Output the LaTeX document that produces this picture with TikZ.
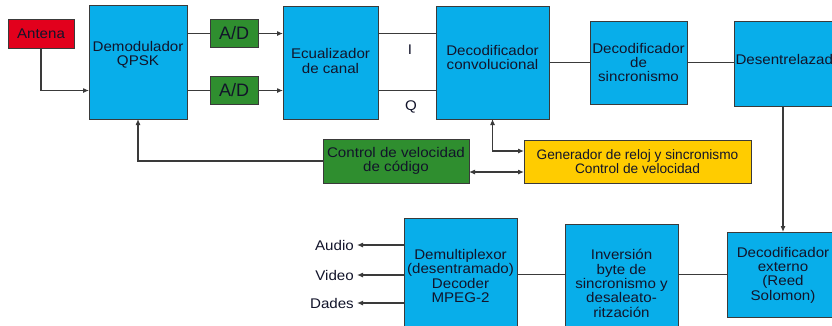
\documentclass[tikz,border=0pt]{standalone}
\usepackage{fontspec}
\setmainfont[FakeStretch=1.08]{Liberation Sans}
\newfontfamily\plainarial{Liberation Sans}
\usetikzlibrary{arrows.meta}
\definecolor{bxblue}{HTML}{08AEEA}
\definecolor{bxred}{HTML}{E2001C}
\definecolor{bxgreen}{HTML}{2F8E2F}
\definecolor{bxyellow}{HTML}{FFCC00}
\definecolor{lineg}{HTML}{3A3A3A}
\definecolor{txt}{HTML}{12142A}
\begin{document}
\begin{tikzpicture}[x=1pt,y=-1pt,
  box/.style={draw=lineg, line width=0.9pt, inner sep=0pt, outer sep=0pt, align=center,
              font=\fontsize{14}{14.4}\selectfont, text=txt},
  bluebox/.style={box, fill=bxblue},
  txtn/.style={inner sep=0pt, align=center, font=\fontsize{14}{14.4}\selectfont, text=txt},
  conn/.style={draw=lineg, line width=1.1pt},
  arr/.style={conn, -{Latex[length=6pt,width=5pt]}},
  darr/.style={conn, {Latex[length=6pt,width=5pt]}-{Latex[length=6pt,width=5pt]}},
  outlbl/.style={inner sep=3pt, anchor=east, font=\fontsize{14}{14.4}\selectfont, text=txt}]
\clip (0,0) rectangle (832,325);
\fill[white] (0,0) rectangle (832,325);

% top row
\node[box, fill=bxred, minimum width=66pt, minimum height=29pt] (ant) at (41,33.5) {Antena};
\node[bluebox, minimum width=98pt, minimum height=114pt] (demod) at (138,62) {};
\node[txtn] (demodt) at (138,55) {Demodulador\\QPSK};
\node[box, fill=bxgreen, minimum width=48pt, minimum height=28pt,
      font=\plainarial\fontsize{18}{18}\selectfont] (ad1) at (234,33.5) {A/D};
\node[box, fill=bxgreen, minimum width=48pt, minimum height=28pt,
      font=\plainarial\fontsize{18}{18}\selectfont] (ad2) at (234,90.5) {A/D};
\node[bluebox, minimum width=95pt, minimum height=113pt] (ecu) at (330.5,62.5) {};
\node[txtn] (ecut) at (330.5,61) {Ecualizador\\de canal};
\node[bluebox, minimum width=113pt, minimum height=113pt] (conv) at (492.5,62.5) {};
\node[txtn] (convt) at (492.5,57.5) {Decodificador\\convolucional};
\node[bluebox, minimum width=97pt, minimum height=83pt] (sinc) at (638.5,62.5) {Decodificador\\de\\sincronismo};
\node[bluebox, minimum width=114pt, minimum height=85pt] (des) at (791,63.5) {};
\node[txtn] (dest) at (791,59) {Desentrelazador};

% labels I / Q
\node[txtn] (ilbl) at (410,50) {I};
\node[txtn] (qlbl) at (411,107) {Q};

% middle row
\node[box, fill=bxgreen, minimum width=146pt, minimum height=44pt] (ctrl) at (396,161) {Control de velocidad\\de código};
\node[box, fill=bxyellow, minimum width=227pt, minimum height=43pt,
      font=\plainarial\fontsize{13.7}{14.2}\selectfont] (gen) at (637.5,161.5) {Generador de reloj y sincronismo\\Control de velocidad};

% bottom row
\node[bluebox, minimum width=113pt, minimum height=117pt] (demux) at (460.5,276.5) {};
\node[txtn] (demuxt) at (460.5,276) {Demultiplexor\\(desentramado)\\Decoder\\MPEG-2};
\node[bluebox, minimum width=113pt, minimum height=111pt] (inv) at (621.5,279.5) {};
\node[txtn] (invt) at (621.5,283.5) {Inversión\\byte de\\sincronismo y\\desaleato-\\ritzación};
\node[bluebox, minimum width=112pt, minimum height=85pt] (ext) at (783,274.5) {};
\node[txtn] (extt) at (783,275) {Decodificador\\externo\\(Reed\\Solomon)};

\node[outlbl] (audio) at (357,245) {Audio};
\node[outlbl] (video) at (357,275) {Video};
\node[outlbl] (dades) at (357,303) {Dades};

% connectors
\draw[arr] (ant.south) |- (ad2 -| demod.west);
\draw[conn] (demod.east |- ad1) -- (ad1.west);
\draw[conn] (demod.east |- ad2) -- (ad2.west);
\draw[arr] (ad1.east) -- (ad1 -| ecu.west);
\draw[arr] (ad2.east) -- (ad2 -| ecu.west);
\draw[conn] (ecu.east |- ad1) -- (ad1 -| conv.west);
\draw[conn] (ecu.east |- ad2) -- (ad2 -| conv.west);
\draw[conn] (conv.east |- sinc) -- (sinc.west);
\draw[conn] (sinc.east) -- (sinc -| des.west);
\draw[arr] (ext.north |- des.south) -- (ext.north);
\draw[conn] (ext.west) -- (ext.west -| inv.east);
\draw[conn] (ext.west -| inv.west) -- (ext.west -| demux.east);
\draw[arr] (demux.west |- audio) -- (audio.east);
\draw[arr] (demux.west |- video) -- (video.east);
\draw[arr] (demux.west |- dades) -- (dades.east);
\draw[arr] (ctrl.west) -| (demod.south);
\draw[darr] ([yshift=-11pt]ctrl.east) -- ([yshift=-11pt]ctrl.east -| gen.west);
\draw[darr] (conv.south) |- ([yshift=10.5pt]gen.west);
\end{tikzpicture}
\end{document}
